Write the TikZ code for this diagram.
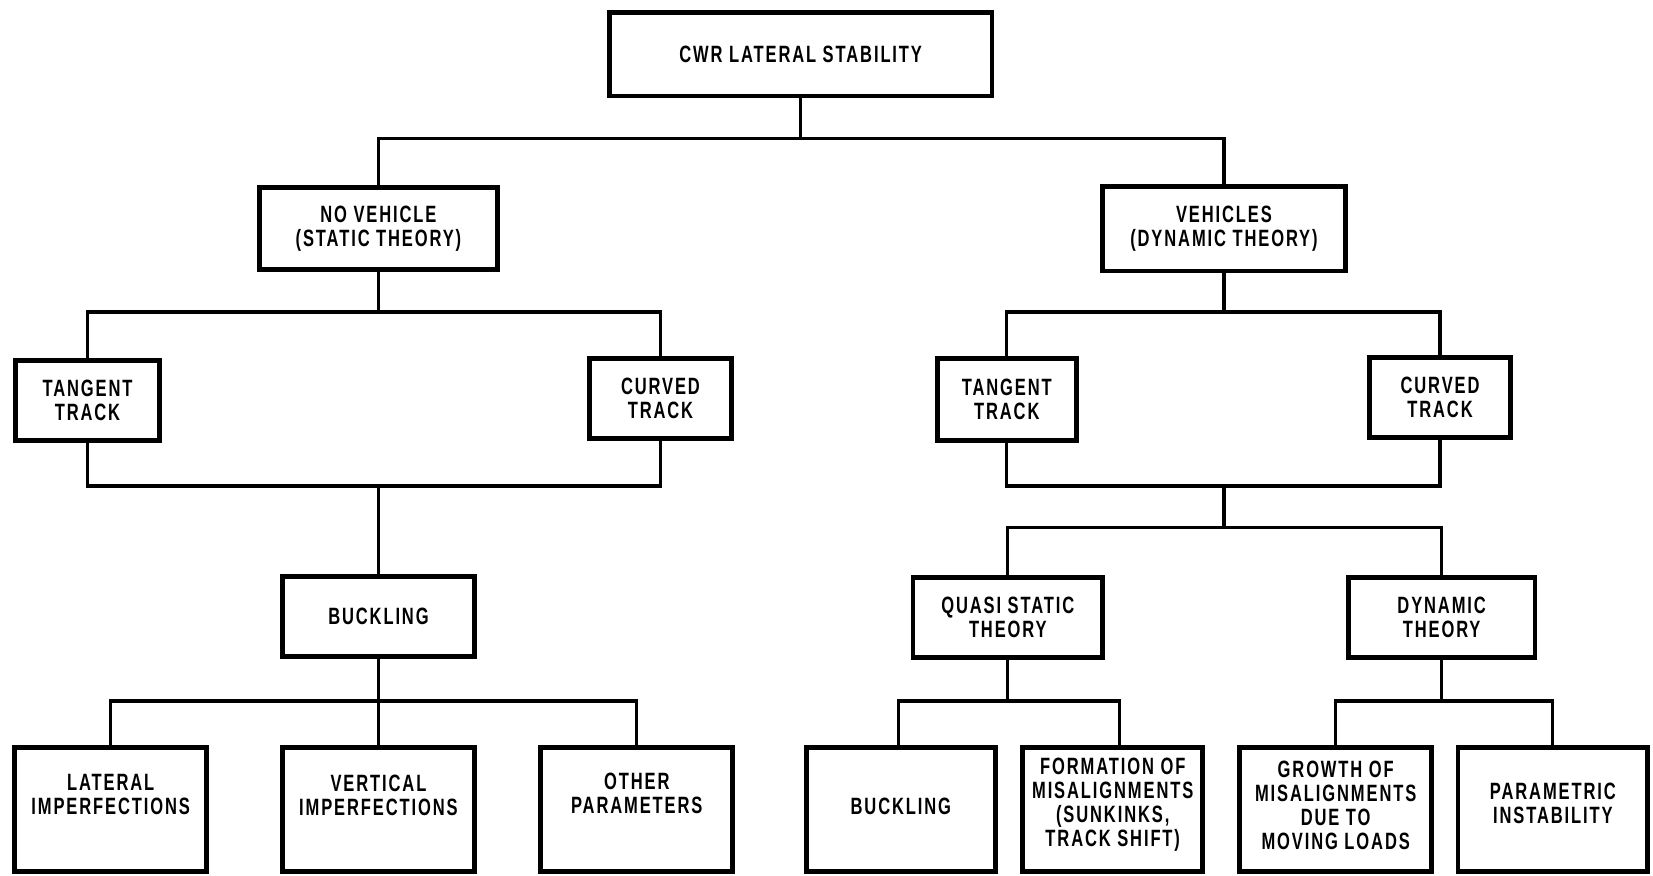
\documentclass[tikz,border=0pt]{standalone}
\usepackage{fontspec}
\setmainfont{Liberation Sans}[FakeStretch=0.7,LetterSpace=8]
\def\pxu{0.5271pt}
\tikzset{
  box/.style={draw, line width=2.4pt, inner sep=0pt, align=center,
    font=\bfseries\fontsize{11.8}{12}\selectfont},
  lbl/.style={inner sep=0pt, align=center,
    font=\bfseries\fontsize{11.8}{12}\selectfont},
  wire/.style={line width=1.6pt},
}
\newcommand\bx[6]{\node[box,minimum width={#4*\pxu},minimum height={#5*\pxu}] (#1) at (#2,#3) {#6};}
\begin{document}
\begin{tikzpicture}[x=\pxu,y=-\pxu]
\useasboundingbox (0,0) rectangle (1568,830);
% boxes
\bx{top}{759.5}{51.5}{363}{79}{CWR LATERAL STABILITY}
\bx{nov}{359}{217}{226}{78}{NO VEHICLE\\(STATIC THEORY)}
\bx{veh}{1161}{217}{230}{80}{VEHICLES\\(DYNAMIC THEORY)}
\bx{lt}{83}{380}{136}{76}{TANGENT\\TRACK}
\bx{lc}{626.5}{378}{135}{76}{CURVED\\TRACK}
\bx{rt}{955}{379}{132}{78}{TANGENT\\TRACK}
\bx{rc}{1366}{377}{134}{76}{CURVED\\TRACK}
\bx{buck}{359}{585}{182}{76}{BUCKLING}
\bx{qs}{956}{586}{180}{76}{QUASI STATIC\\THEORY}
\bx{dy}{1367.5}{586}{177}{76}{DYNAMIC\\THEORY}
\bx{b1}{105}{768}{182}{118}{}
\bx{b2}{359}{768}{182}{118}{}
\bx{b3}{604}{768}{182}{118}{}
\bx{b4}{854.5}{768}{179}{118}{}
\bx{b5}{1055.5}{768}{171}{118}{}
\bx{b6}{1267}{768}{182}{118}{}
\bx{b7}{1473}{768}{180}{118}{}
% bottom texts
\node[lbl] (t1) at (105,754) {LATERAL\\IMPERFECTIONS};
\node[lbl] (t2) at (359,754) {VERTICAL\\IMPERFECTIONS};
\node[lbl] (t3) at (604,753) {OTHER\\PARAMETERS};
\node[lbl] (t4) at (854.5,765) {BUCKLING};
\node[lbl] (t5) at (1055.5,763) {FORMATION OF\\MISALIGNMENTS\\(SUNKINKS,\\TRACK SHIFT)};
\node[lbl] (t6) at (1267,763.5) {GROWTH OF\\MISALIGNMENTS\\DUE TO\\MOVING LOADS};
\node[lbl] (t7) at (1473,762) {PARAMETRIC\\INSTABILITY};
% junction coordinates
\coordinate (j0) at (760,131);
\coordinate (j1) at (359,296);
\coordinate (j2) at (359,461);
\coordinate (j3) at (1161,296);
\coordinate (j4) at (1161,461);
\coordinate (j5) at (1161,500);
\coordinate (j6) at (359,665);
\coordinate (q1) at (852,665);
\coordinate (q2) at (1062,665);
\coordinate (j8) at (1368,665);
% connectors
\draw[wire] (top.south) -- (top.south |- j0);
\draw[wire] (nov.north) |- (veh.north |- j0) -- (veh.north);
\draw[wire] (nov.south) -- (nov.south |- j1);
\draw[wire] (lt.north) |- (lc.north |- j1) -- (lc.north);
\draw[wire] (lt.south) |- (lc.south |- j2) -- (lc.south);
\draw[wire] (buck.north |- j2) -- (buck.north);
\draw[wire] (veh.south) -- (veh.south |- j3);
\draw[wire] (rt.north) |- (rc.north |- j3) -- (rc.north);
\draw[wire] (rt.south) |- (rc.south |- j4) -- (rc.south);
\draw[wire] (j4) -- (j5);
\draw[wire] (qs.north) |- (dy.north |- j5) -- (dy.north);
\draw[wire] (buck.south) -- (buck.south |- j6);
\draw[wire] (b1.north) |- (b3.north |- j6) -- (b3.north);
\draw[wire] (b2.north |- j6) -- (b2.north);
\draw[wire] (qs.south) -- (qs.south |- q1);
\draw[wire] (q1 |- b4.north) |- (q2) -- (q2 |- b5.north);
\draw[wire] (dy.south) -- (dy.south |- j8);
\draw[wire] (b6.north) |- (b7.north |- j8) -- (b7.north);
\end{tikzpicture}
\end{document}
